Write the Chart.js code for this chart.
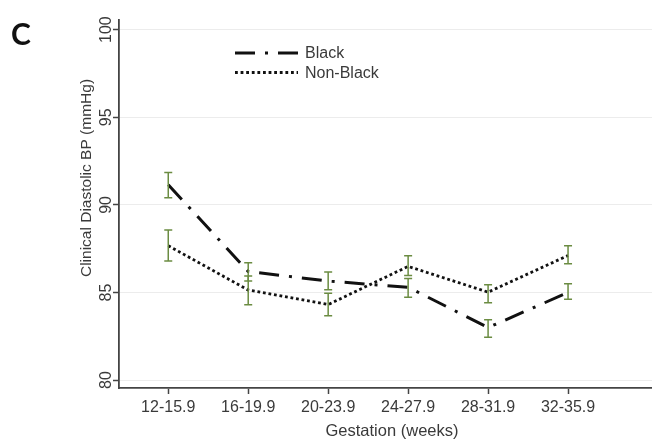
<!DOCTYPE html>
<html>
<head>
<meta charset="utf-8">
<script src="https://cdn.jsdelivr.net/npm/chart.js@4/dist/chart.umd.min.js"></script>
<style>
  html, body { margin: 0; padding: 0; background: #fff; }
  #wrap { width: 652px; height: 443px; position: relative; }
</style>
</head>
<body>
<div id="wrap"><canvas id="c" width="652" height="443"></canvas></div>
<script>
// ---- data ----
const categories = ['12-15.9', '16-19.9', '20-23.9', '24-27.9', '28-31.9', '32-35.9'];
const blackMean = [91.15, 86.2, 85.65, 85.3, 83.0, 85.0];
const blackLow  = [90.4, 85.65, 85.15, 84.73, 82.45, 84.62];
const blackHigh = [91.85, 86.7, 86.17, 85.8, 83.45, 85.5];
const nonBlackMean = [87.67, 85.14, 84.31, 86.49, 85.02, 87.11];
const nonBlackLow  = [86.8, 84.3, 83.67, 85.97, 84.41, 86.64];
const nonBlackHigh = [88.57, 85.94, 84.95, 87.1, 85.44, 87.67];
const yTicks = [80, 85, 90, 95, 100];
const seriesNames = ['Black', 'Non-Black'];

const TEXT = '#3a3a3a';
const AXIS = '#444';
const ERR = '#6b8c42';
const FONT = "'Liberation Sans', Arial, sans-serif";

const toPts = arr => arr.map((v, i) => ({ x: i, y: v }));

const extras = {
  id: 'extras',
  afterDatasetsDraw(chart) {
    const { ctx, scales: { x, y } } = chart;
    ctx.save();
    // error bars
    ctx.strokeStyle = ERR;
    ctx.lineWidth = 1.5;
    ctx.setLineDash([]);
    [[blackLow, blackHigh], [nonBlackLow, nonBlackHigh]].forEach(([lo, hi]) => {
      lo.forEach((l, i) => {
        const px = x.getPixelForValue(i);
        const y1 = y.getPixelForValue(l), y2 = y.getPixelForValue(hi[i]);
        ctx.beginPath();
        ctx.moveTo(px, y1); ctx.lineTo(px, y2);
        ctx.moveTo(px - 4, y1); ctx.lineTo(px + 4, y1);
        ctx.moveTo(px - 4, y2); ctx.lineTo(px + 4, y2);
        ctx.stroke();
      });
    });
    ctx.restore();
  },
  afterDraw(chart) {
    const { ctx, scales: { y } } = chart;
    ctx.save();
    ctx.fillStyle = TEXT;
    // y tick labels (rotated)
    ctx.font = '16px ' + FONT;
    ctx.textAlign = 'center';
    ctx.textBaseline = 'middle';
    yTicks.forEach(v => {
      const py = y.getPixelForValue(v);
      ctx.save();
      ctx.translate(107, py);
      ctx.rotate(-Math.PI / 2);
      ctx.fillText(String(v), 0, 0);
      ctx.restore();
    });
    // y title
    ctx.save();
    ctx.font = '15.5px ' + FONT;
    ctx.translate(87, 178);
    ctx.rotate(-Math.PI / 2);
    ctx.fillText('Clinical Diastolic BP (mmHg)', 0, 0);
    ctx.restore();
    // x title
    ctx.font = '16.5px ' + FONT;
    ctx.fillText('Gestation (weeks)', 392, 431);
    // panel letter
    ctx.fillStyle = '#111';
    ctx.font = "bold 30px Lato, 'Open Sans', sans-serif";
    ctx.textAlign = 'left';
    ctx.textBaseline = 'alphabetic';
    ctx.fillText('C', 11, 45);
    // legend
    ctx.font = '16px ' + FONT;
    ctx.fillStyle = TEXT;
    ctx.textBaseline = 'middle';
    chart.data.datasets.forEach((ds, i) => {
      const ly = 53 + i * 19.5;
      ctx.save();
      ctx.strokeStyle = ds.borderColor;
      ctx.lineWidth = ds.borderWidth;
      ctx.setLineDash(ds.borderDash || []);
      ctx.beginPath();
      ctx.moveTo(235, ly); ctx.lineTo(298, ly);
      ctx.stroke();
      ctx.restore();
      ctx.fillText(ds.label, 305, ly + 1);
    });
    ctx.restore();
  }
};

new Chart(document.getElementById('c'), {
  type: 'line',
  data: {
    datasets: [
      {
        label: seriesNames[0],
        data: toPts(blackMean),
        borderColor: '#111',
        borderWidth: 3,
        borderDash: [20, 10, 3, 10],
        pointRadius: 0,
        fill: false,
        tension: 0
      },
      {
        label: seriesNames[1],
        data: toPts(nonBlackMean),
        borderColor: '#111',
        borderWidth: 2.8,
        borderDash: [2.8, 2.8],
        pointRadius: 0,
        fill: false,
        tension: 0
      }
    ]
  },
  options: {
    responsive: false,
    animation: false,
    devicePixelRatio: 1,
    layout: { padding: { top: 20, left: 0, right: 0, bottom: 0 } },
    plugins: { legend: { display: false }, tooltip: { enabled: false } },
    scales: {
      x: {
        type: 'linear',
        min: -0.616,
        max: 6.05,
        afterBuildTicks: s => { s.ticks = categories.map((c, i) => ({ value: i })); },
        afterFit: s => { s.height = 55; },
        grid: { display: true, drawOnChartArea: false, tickLength: 6, tickColor: AXIS, tickWidth: 1.5 },
        border: { color: AXIS, width: 1.8 },
        ticks: {
          autoSkip: false, maxRotation: 0, minRotation: 0, padding: 4,
          color: TEXT, font: { family: FONT, size: 16 },
          callback: (v) => categories[Math.round(v)]
        },
        title: { display: false }
      },
      y: {
        type: 'linear',
        min: 79.55,
        max: 100.55,
        afterBuildTicks: s => { s.ticks = yTicks.map(v => ({ value: v })); },
        afterFit: s => { s.width = 119; },
        grid: { color: '#ececec', lineWidth: 1, tickLength: 6, tickColor: AXIS, tickWidth: 1.5 },
        border: { color: AXIS, width: 1.8 },
        ticks: { display: false }
      }
    }
  },
  plugins: [extras]
});
</script>
</body>
</html>
